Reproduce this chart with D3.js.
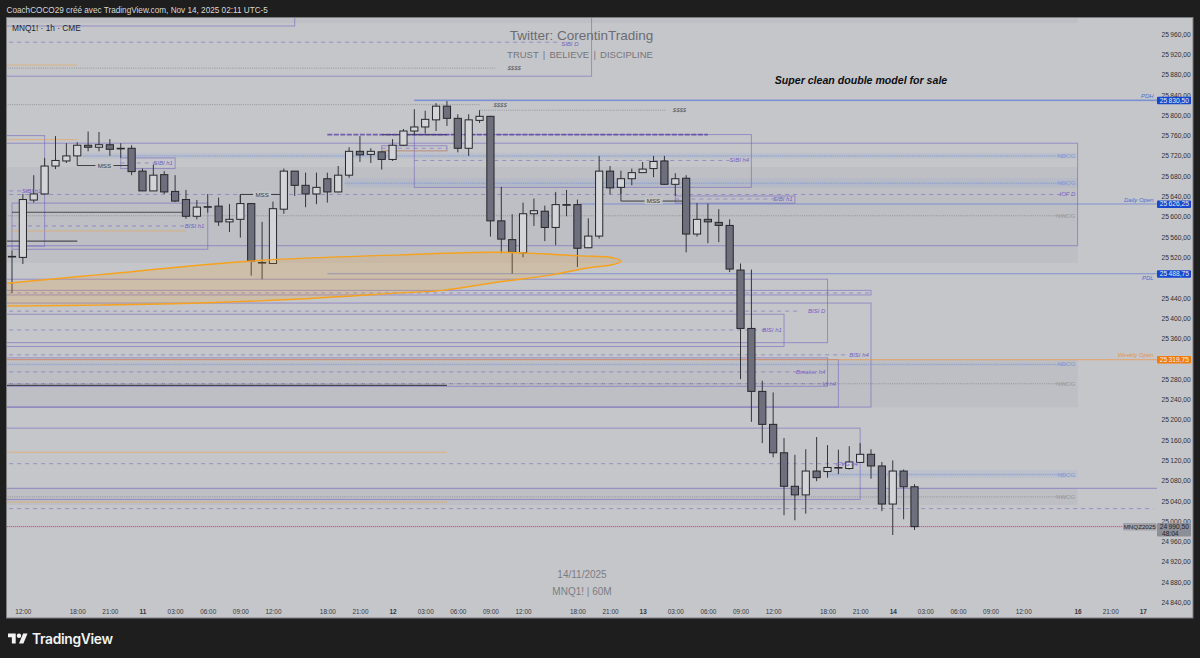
<!DOCTYPE html>
<html>
<head>
<meta charset="utf-8">
<script src="https://d3js.org/d3.v7.min.js"></script>
<style>
html,body{margin:0;padding:0;background:#1e1e1e;overflow:hidden}
text{font-family:"Liberation Sans",Arial,sans-serif}
</style>
</head>
<body>
<svg id="chart" width="1200" height="658"></svg>
<script>
// hourly candles, MNQ1! 60M
var opens = [25523,25521,25634,25646,25701,25711,25721,25742,25738,25743,
  25736,25736,25691,25652,25684,25651,25635,25602,25621,25622,
  25591,25596,25627,25511,25509,25616,25691,25663,25646,25676,
  25650,25683,25730,25724,25729,25714,25742,25770,25778,25792,
  25819,25795,25736,25791,25799,25593,25556,25530,25607,25612,
  25580,25625,25625,25540,25563,25691,25659,25676,25688,25696,
  25711,25665,25677,25567,25596,25590,25584,25496,25381,25257,
  25192,25136,25070,25053,25100,25099,25107,25105,25117,25133,
  25110,25035,25100,25069];
var highs = [25535,25646,25683,25717,25760,25746,25748,25769,25768,25754,
  25746,25742,25696,25704,25691,25683,25654,25634,25646,25639,
  25626,25645,25628,25591,25631,25696,25691,25688,25688,25688,
  25701,25738,25760,25736,25730,25754,25774,25813,25810,25825,
  25829,25803,25803,25811,25800,25660,25606,25629,25637,25623,
  25650,25654,25635,25598,25721,25701,25692,25696,25709,25721,
  25721,25687,25683,25628,25627,25616,25596,25509,25497,25278,
  25255,25165,25132,25143,25167,25151,25142,25149,25155,25143,
  25118,25121,25103,25074];
var lows = [25451,25508,25629,25645,25695,25707,25721,25730,25730,25721,
  25717,25683,25652,25652,25646,25630,25597,25596,25609,25583,
  25571,25560,25485,25478,25508,25607,25642,25620,25626,25629,
  25649,25678,25709,25707,25694,25711,25741,25762,25765,25770,
  25780,25728,25721,25786,25562,25529,25489,25521,25583,25553,
  25545,25602,25502,25539,25558,25645,25646,25663,25688,25679,
  25664,25642,25531,25562,25549,25551,25492,25281,25197,25155,
  25127,25013,25003,25016,25080,25087,25094,25103,25116,25085,
  25021,24974,25005,24984];
var closes = [25522,25635,25646,25701,25712,25721,25742,25738,25743,25734,
  25736,25690,25652,25683,25650,25632,25602,25620,25621,25591,
  25596,25627,25514,25511,25617,25691,25663,25646,25659,25650,
  25683,25730,25723,25730,25714,25742,25770,25778,25793,25819,
  25795,25736,25792,25799,25593,25557,25531,25607,25613,25580,
  25625,25624,25539,25563,25691,25658,25676,25688,25695,25710,
  25665,25676,25567,25596,25591,25584,25498,25381,25257,25192,
  25136,25070,25053,25100,25087,25107,25107,25118,25133,25110,
  25035,25100,25069,24990.5];

// time axis: bar number + label
var tickBars = [1,6,9,12,15,18,21,24,29,32,35,38,41,44,47,52,55,58,61,64,67,70,75,78,81,84,87,90,93,98,101,104];
var tickLabels = ["12:00","18:00","21:00","11","03:00","06:00","09:00","12:00","18:00","21:00","12","03:00","06:00","09:00","12:00","18:00","21:00","13","03:00","06:00","09:00","12:00","18:00","21:00","14","03:00","06:00","09:00","12:00","16","21:00","17"];
var dayLabels = ["11","12","13","14","16","17"];

// levels: [startBar, endBar, price]
var solidLevels = [[-1,105.3,25066]];
var blueLevels = [[37,105.3,25830.5],[52.2,105.3,25626.25],[29,105.3,25488.75]];
var weeklyLevel = [[-1,105.3,25319.75]];
var dashedLevels = [[-1,50.4,25945],[37,66,25712],[-1,96.5,25645],[-1,1.5,25652],[0,16,25583],
  [61,70.5,25636],[34,40,25736],[10,13.5,25707],[-1,72.5,25415],[-1,76.8,25329],[-1,69.5,25378],
  [-1,73.3,25295.5],[-1,75.6,25272],[-1,79,25451],[-1,77,25114.5],[-1,105,25026]];
var greyDotted = [[-1,44.4,25894],[-1,43,25822],[43,60.2,25811],[-1,97,25603],[-1,97,25272],[-1,97,25049]];
var blueDotted = [[6.5,97,25721],[30.6,97,25667],[-1,97,25310],[75,97,25093]];
var orangeThin = [[-1,6,25900],[-1,6,25753],[0,16,25573],[-1,40,25137],[-1,40,25039],[34,40,25731]];
var darkLines = [[0,16,25610],[-1,6,25553],[-1,40,25269],[34,40,25763]];
var thickDashed = [[29,64,25763]];
var lastPrice = [[-1,105.3,24990.5]];

// zones: [startBar, endBar, topPrice, bottomPrice]
var greyBands = [[-1,98,25992,25983],[-1,98,25699,25510],[-1,98,25319.75,25226],[-1,98,25066,25033]];
var blueBands = [[30.6,98,25677,25659],[6.5,98,25727,25716],[75,98,25102,25086]];
var boxes = [[-1,53.3,26060,25878],[-1,26,26060,25977],[-1,98,25746,25544],[37,68,25763,25659],
  [34,40,25741,25731],[10,15,25717,25696],[-1,3,25761,25543],[0,18,25628,25537],[61,72,25642,25628],
  [-1,75,25478,25353],[-1,79,25456,25447],[-1,79,25431,25226],[-1,71,25409,25345.5],[-1,75,25323,25267],
  [-1,76,25319.75,25226],[-1,78,25184.5,25044]];

// MSS brackets: [legBar, endBar, legPrice, price]
var mssLegs = [[6,11,25721,25702],[21,25,25627,25645],[56,62,25659,25632]];

// drawn ellipse outline: bar number / price
var ellipseBars = [-2,-0.46,8.1,22,35.7,44.9,52.2,55.3,56,55.3,52.9,49.5,44.9,39.6,35.7,26.5,17.3,8.1,-0.46,-2];
var ellipsePrices = [25466,25470,25487,25514,25526,25531,25524,25520,25513,25507,25500,25486,25473,25456,25451,25439,25431,25427,25425,25425];

// annotations: [text, endBar, price]
var zoneLabels = [["SIBI D",52.1,25941],["SIBI h4",67.8,25712],["SIBI h1",14.8,25707],["SIBI h1",2.7,25652],
  ["BISI h1",17.7,25583],["SIBI h1",71.8,25636],["BISI D",74.8,25415],["BISI h1",70.8,25378],["BISI h4",78.8,25329],
  ["Breaker h4",74.8,25295.5],["VI h4",75.8,25272],["iFVG h4",77.8,25114.5],["IOF D",97.8,25645]];
var gapLabels = [["NDOG",97.8,25721,"b"],["NDOG",97.8,25667,"b"],["NDOG",97.8,25310,"b"],["NDOG",97.8,25093,"b"],
  ["NWOG",97.8,25603,"g"],["NWOG",97.8,25272,"g"],["NWOG",97.8,25049,"g"]];
var levelLabels = [["PDH",105,25840],["Daily Open",105,25634],["PDL",105,25480]];
var liquidityLabels = [["$$$$",45.5,25822],["$$$$",46.8,25894],["$$$$",62,25811]];

// price tags
var tagPrices = [25830.5,25626.25,25488.75,25319.75];
var tagColors = ["#1648cf","#1648cf","#1648cf","#f47b0a"];

// 25320 and 25480 sit under the tags
var priceTicks = d3.range(24840,25961,40).filter(function(p){return p!=25320 && p!=25480;});

var svg = d3.select("#chart");
var x = d3.scaleLinear().domain([0,83]).range([12,914.5]);
var y = d3.scaleLinear().domain([25960,24840]).range([34.6,603]);
var fmt = d3.formatLocale({decimal:",",thousands:"\u2009",grouping:[3],currency:["",""]}).format(",.2f");

var defs = svg.append("defs");
defs.append("clipPath").attr("id","plot").append("rect").attr("x",7).attr("y",18).attr("width",1150).attr("height",600);

svg.append("rect").attr("x",6.5).attr("y",17.5).attr("width",1186.5).attr("height",600.5)
  .attr("fill","#c5c6ca").attr("stroke","#7c7d80");

var plot = svg.append("g").attr("clip-path","url(#plot)");

function bands(data, fill){
  plot.append("g").selectAll("rect").data(data).join("rect")
    .attr("x",function(d){return x(d[0]);})
    .attr("width",function(d){return x(d[1])-x(d[0]);})
    .attr("y",function(d){return y(d[2]);})
    .attr("height",function(d){return y(d[3])-y(d[2]);})
    .attr("fill",fill);
}
function levels(data, color, width, dash){
  plot.append("g").selectAll("line").data(data).join("line")
    .attr("x1",function(d){return x(d[0]);})
    .attr("x2",function(d){return x(d[1]);})
    .attr("y1",function(d){return y(d[2]);})
    .attr("y2",function(d){return y(d[2]);})
    .attr("stroke",color).attr("stroke-width",width)
    .attr("stroke-dasharray",dash||null);
}

bands(greyBands,"rgba(110,110,115,0.075)");
bands(blueBands,"rgba(130,160,215,0.12)");

plot.append("g").selectAll("rect").data(boxes).join("rect")
  .attr("x",function(d){return x(d[0]);})
  .attr("width",function(d){return x(d[1])-x(d[0]);})
  .attr("y",function(d){return y(d[2]);})
  .attr("height",function(d){return y(d[3])-y(d[2]);})
  .attr("fill","none").attr("stroke","rgba(104,84,190,0.5)").attr("stroke-width",1);

levels(solidLevels,"rgba(104,84,190,0.55)",1);
levels(greyDotted,"rgba(90,90,95,0.55)",0.8,"1 1.2");
levels(blueDotted,"rgba(70,100,210,0.45)",0.8,"1 1.2");
levels(blueDotted,"rgba(130,160,215,0.16)",2.5);
levels(dashedLevels,"rgba(104,84,190,0.55)",0.9,"4 4");
levels(orangeThin,"rgba(240,160,60,0.5)",1);
levels(weeklyLevel,"rgba(240,150,70,0.6)",1.2);
levels(blueLevels,"rgba(60,95,215,0.5)",1);
levels([blueLevels[0]],"rgba(90,120,215,0.3)",2);
levels(darkLines,"rgba(45,45,55,0.8)",1.2);
levels(thickDashed,"rgba(85,60,165,0.75)",1.8,"5 1.5");
levels(lastPrice,"rgba(225,120,160,0.4)",1);
levels(lastPrice,"rgba(85,75,125,0.6)",1,"1 1");

// MSS brackets
var bracket = d3.line();
plot.append("g").selectAll("path").data(mssLegs).join("path")
  .attr("d",function(d){return bracket([[x(d[0]),y(d[2])],[x(d[0]),y(d[3])],[x(d[1]),y(d[3])]]);})
  .attr("fill","none").attr("stroke","#2e2e34").attr("stroke-width",0.9);

// candles
var candles = opens.map(function(o,i){return {i:i,o:o,h:highs[i],l:lows[i],c:closes[i]};});
var bw = 7.2;
var bars = plot.append("g").selectAll("g").data(candles).join("g");
bars.append("line")
  .attr("x1",function(d){return x(d.i);}).attr("x2",function(d){return x(d.i);})
  .attr("y1",function(d){return y(d.h);}).attr("y2",function(d){return y(d.l);})
  .attr("stroke","#33343a").attr("stroke-width",1);
bars.append("rect")
  .attr("x",function(d){return x(d.i)-bw/2;}).attr("width",bw)
  .attr("y",function(d){return y(Math.max(d.o,d.c));})
  .attr("height",function(d){return Math.max(0.6,Math.abs(y(d.o)-y(d.c)));})
  .attr("fill",function(d){return d.c<d.o?"#6d6f7c":"#d3d4d7";})
  .attr("stroke","#26272c").attr("stroke-width",1);

// ellipse sits on top of the candles
var ellipseLine = d3.line().curve(d3.curveCatmullRomClosed.alpha(0.5))
  .x(function(d){return x(d[0]);}).y(function(d){return y(d[1]);});
plot.append("path").datum(ellipseBars.map(function(b,i){return [b,ellipsePrices[i]];}))
  .attr("d",ellipseLine)
  .attr("fill","rgba(240,160,40,0.2)").attr("stroke","#f6a21e").attr("stroke-width",1.4);

// gap behind MSS text
var mssMid = mssLegs.map(function(d){return [(d[0]+d[1])/2,d[3]];});
plot.append("g").selectAll("rect").data(mssMid).join("rect")
  .attr("x",function(d){return x(d[0])-9;}).attr("width",18)
  .attr("y",function(d){return y(d[1])-3;}).attr("height",6).attr("fill","#c3c4c8");
plot.append("g").selectAll("text").data(mssMid).join("text")
  .attr("x",function(d){return x(d[0]);}).attr("y",function(d){return y(d[1])+2.2;})
  .attr("text-anchor","middle").attr("font-size",6.2).attr("fill","#3a3a40").text("MSS");

function notes(data, color, italic, size){
  return svg.append("g").selectAll("text").data(data).join("text")
    .attr("x",function(d){return x(d[1]);}).attr("y",function(d){return y(d[2])+2;})
    .attr("text-anchor","end").attr("font-size",size||6)
    .attr("font-style",italic?"italic":"normal").attr("fill",color)
    .text(function(d){return d[0];});
}
notes(zoneLabels,"#7660c4",true);
notes(gapLabels.filter(function(d){return d[3]=="b";}),"#7f97d6",false);
notes(gapLabels.filter(function(d){return d[3]=="g";}),"#96979c",false);
notes(levelLabels,"#4a6fd0",true);
notes([["Weekly Open",105,25328]],"#e8924a",true);
notes(liquidityLabels,"#55565c",true);

// price axis
var yAxis = d3.axisRight(y).tickValues(priceTicks).tickFormat(fmt).tickSize(0).tickPadding(0);
var ag = svg.append("g").attr("transform","translate(1161.5,-0.6)").call(yAxis);
ag.select(".domain").remove();
ag.selectAll("text").attr("font-size",6.7).attr("fill","#2e2f33").attr("font-family","Liberation Sans");

// time axis
var xAxis = d3.axisBottom(x).tickValues(tickBars)
  .tickFormat(function(d,i){return tickLabels[i];}).tickSize(0).tickPadding(0);
var bg = svg.append("g").attr("transform","translate(0,609)").call(xAxis);
bg.select(".domain").remove();
bg.selectAll("text").attr("font-size",6.4).attr("fill","#37383c").attr("font-family","Liberation Sans")
  .attr("font-weight",function(){return dayLabels.indexOf(this.textContent)>=0?"bold":"normal";});

// price tags
var tags = svg.append("g").selectAll("g").data(tagPrices).join("g")
  .attr("transform",function(d){return "translate(1157,"+y(d)+")";});
tags.append("rect").attr("x",0).attr("y",-3.6).attr("width",34).attr("height",7.6).attr("rx",1)
  .attr("fill",function(d,i){return tagColors[i];});
tags.append("text").attr("x",32).attr("y",2.4).attr("text-anchor","end")
  .attr("font-size",6.7).attr("fill","#e9ecf5").text(function(d){return fmt(d);});

var lastY = y(lastPrice[0][2]);
svg.append("rect").attr("x",1157).attr("y",lastY-3.5).attr("width",34).attr("height",13.4).attr("rx",1).attr("fill","#8d8f98");
svg.append("text").attr("x",1189).attr("y",lastY+2.4).attr("text-anchor","end").attr("font-size",6.7).attr("fill","#25262a").text(fmt(lastPrice[0][2]));
svg.append("text").attr("x",1162).attr("y",lastY+9).attr("font-size",6.6).attr("fill","#25262a").text("48:04");
svg.append("rect").attr("x",1123).attr("y",lastY-3.5).attr("width",33.5).attr("height",7.4).attr("rx",1).attr("fill","#a3a4aa");
svg.append("text").attr("x",1139.7).attr("y",lastY+2.4).attr("text-anchor","middle").attr("font-size",6.2).attr("fill","#25262a").text("MNQZ2025");

// header + watermark
function label(tx,px,py,size,color,anchor,extra){
  var t = svg.append("text").attr("x",px).attr("y",py).attr("font-size",size).attr("fill",color)
    .attr("text-anchor",anchor||"start").text(tx);
  if(extra){extra(t);}
  return t;
}
label("CoachCOCO29 créé avec TradingView.com, Nov 14, 2025 02:11 UTC-5",6.5,13.3,8.2,"#d8d8d8");
label("MNQ1! · 1h · CME",12,31,8.3,"#26272b");
label("Twitter: CorentinTrading",581.5,40,13.5,"#6b6c72","middle");
label("TRUST | BELIEVE | DISCIPLINE",580,57.5,9.5,"#74757a","middle",function(t){
  t.attr("word-spacing",1.6);
});
label("Super clean double model for sale",861,83.5,10.6,"#0e0e12","middle",function(t){
  t.attr("font-weight","bold").attr("font-style","italic");
});
label("14/11/2025",582,578,10,"#7c7d82","middle");
label("MNQ1! | 60M",582,594.5,10,"#7c7d82","middle");

// TradingView logo
var logo = svg.append("g").attr("transform","translate(8,631.3) scale(0.55)").attr("fill","#f2f2f2");
logo.append("path").attr("d","M14 22H7V11H0V4h14v18zM28 22h-8l7.5-18h8L28 22z");
logo.append("circle").attr("cx",20).attr("cy",8).attr("r",4);
svg.append("text").attr("x",32).attr("y",643.5).attr("font-size",13.8).attr("font-weight",600)
  .attr("fill","#f2f2f2").style("font-family","Inter").attr("letter-spacing",-0.3).text("TradingView");
</script>
</body>
</html>
